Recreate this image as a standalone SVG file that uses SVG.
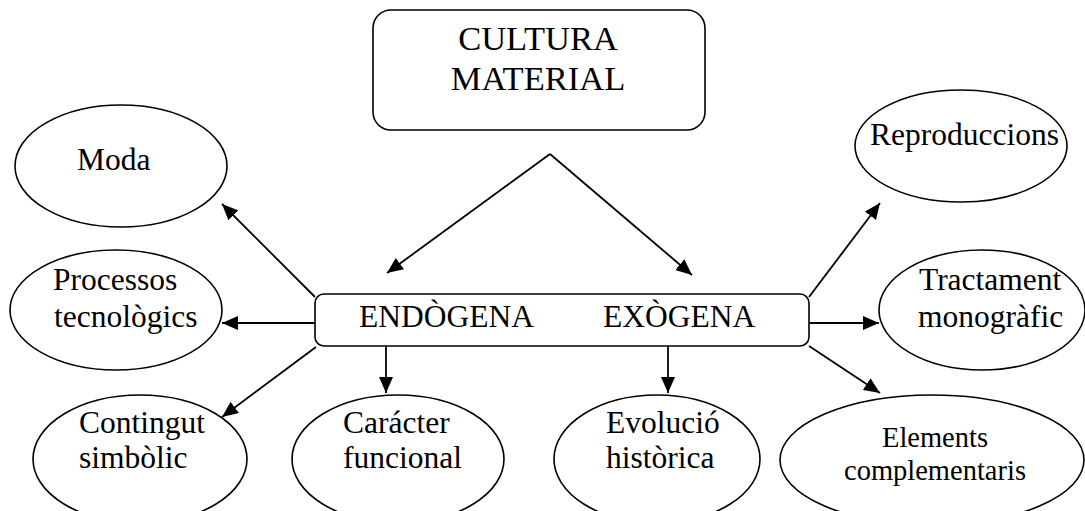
<svg xmlns="http://www.w3.org/2000/svg" width="1085" height="511" viewBox="0 0 1085 511">
  <style>
    .shape { fill: #ffffff; stroke: #000000; stroke-width: 1.6; }
    .label { font-family: 'Liberation Serif', Tinos, 'Times New Roman', 'DejaVu Serif', serif; font-size: 31.5px; fill: #000000; }
    .big { font-size: 34.5px; }
    .small { font-size: 28.5px; }
    .link { stroke: #000000; stroke-width: 1.8; fill: none; marker-end: url(#head); }
  </style>
  <defs>
    <marker id="head" markerUnits="userSpaceOnUse" markerWidth="17" markerHeight="14" refX="16" refY="7" orient="auto">
      <path d="M0,0 L16,7 L0,14 z" fill="#000000"/>
    </marker>
  </defs>
  <rect width="1085" height="511" fill="#ffffff"/>

  <!-- connectors -->
  <g id="connectors">
    <line class="link" x1="550" y1="154" x2="387" y2="273"/>
    <line class="link" x1="550" y1="154" x2="692" y2="275"/>
    <line class="link" x1="315" y1="297" x2="222" y2="204"/>
    <line class="link" x1="315" y1="323" x2="222" y2="323"/>
    <line class="link" x1="316" y1="347" x2="222" y2="417"/>
    <line class="link" x1="386" y1="346" x2="386" y2="393"/>
    <line class="link" x1="668" y1="346" x2="668" y2="393"/>
    <line class="link" x1="809" y1="297" x2="880" y2="203"/>
    <line class="link" x1="809" y1="323" x2="879" y2="323"/>
    <line class="link" x1="809" y1="346" x2="880" y2="393"/>
  </g>

  <g id="cultura-material" font-family="Liberation Serif, serif">
    <rect class="shape" x="373" y="10" width="332" height="120" rx="18" ry="18"/>
    <text class="label big" x="538" y="50" text-anchor="middle">CULTURA</text>
    <text class="label big" x="538" y="90" text-anchor="middle">MATERIAL</text>
  </g>

  <g id="endogena-exogena">
    <rect class="shape" x="315" y="294" width="494" height="52" rx="9" ry="9"/>
    <text class="label" x="359" y="327">ENDÒGENA</text>
    <text class="label" x="603" y="327">EXÒGENA</text>
  </g>

  <g id="moda">
    <ellipse class="shape" cx="121" cy="166" rx="106" ry="61"/>
    <text class="label" x="77" y="170">Moda</text>
  </g>

  <g id="processos">
    <ellipse class="shape" cx="116" cy="310" rx="106" ry="60"/>
    <text class="label" x="53" y="290">Processos</text>
    <text class="label" x="54" y="327">tecnològics</text>
  </g>

  <g id="contingut">
    <ellipse class="shape" cx="140" cy="459" rx="107" ry="64"/>
    <text class="label" x="79" y="433">Contingut</text>
    <text class="label" x="79" y="468">simbòlic</text>
  </g>

  <g id="caracter">
    <ellipse class="shape" cx="398" cy="459" rx="106" ry="64"/>
    <text class="label" x="343" y="433">Carácter</text>
    <text class="label" x="343" y="468">funcional</text>
  </g>

  <g id="evolucio">
    <ellipse class="shape" cx="657" cy="459" rx="103" ry="64"/>
    <text class="label" x="606" y="433">Evolució</text>
    <text class="label" x="606" y="468">històrica</text>
  </g>

  <g id="elements">
    <ellipse class="shape" cx="932" cy="460" rx="152" ry="65"/>
    <text class="label small" x="935" y="447" text-anchor="middle">Elements</text>
    <text class="label small" x="935" y="480" text-anchor="middle">complementaris</text>
  </g>

  <g id="reproduccions">
    <ellipse class="shape" cx="961" cy="146" rx="106" ry="56"/>
    <text class="label" x="870" y="145">Reproduccions</text>
  </g>

  <g id="tractament">
    <ellipse class="shape" cx="982" cy="310" rx="103" ry="60"/>
    <text class="label" x="919" y="290">Tractament</text>
    <text class="label" x="918" y="327">monogràfic</text>
  </g>
</svg>
